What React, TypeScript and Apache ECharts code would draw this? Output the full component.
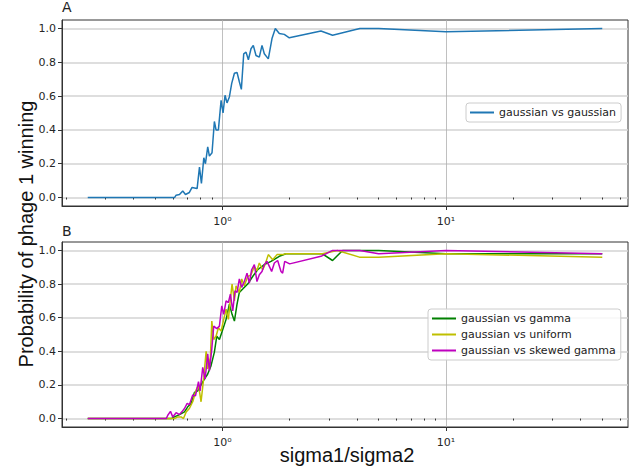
import React, { useEffect, useRef } from "react";
import * as echarts from "echarts";

// Panel A: gaussian vs gaussian
const xGauss = [0.25, 0.5, 0.611, 0.621, 0.643, 0.665, 0.684, 0.712, 0.732, 0.75, 0.771, 0.79, 0.806, 0.826, 0.84, 0.86, 0.875, 0.899, 0.921, 0.937, 0.96, 0.987, 1.007, 1.028, 1.049, 1.075, 1.101, 1.132, 1.163, 1.191, 1.216, 1.246, 1.276, 1.307, 1.343, 1.375, 1.414, 1.463, 1.504, 1.54, 1.605, 1.667, 1.725, 1.797, 1.892, 1.992, 2.76, 3.11, 4.12, 5.0, 10, 50];
const yGauss = [0, 0, 0, 0.014, 0.018, 0.039, 0.018, 0.03, 0.06, 0.057, 0.053, 0.18, 0.083, 0.235, 0.2, 0.3, 0.245, 0.265, 0.45, 0.4, 0.4, 0.575, 0.5, 0.605, 0.56, 0.595, 0.675, 0.735, 0.74, 0.685, 0.64, 0.85, 0.86, 0.815, 0.88, 0.9, 0.84, 0.83, 0.9, 0.85, 0.82, 0.94, 1.0, 0.97, 0.965, 0.945, 0.985, 0.96, 1.0, 1.0, 0.98, 1.0];

// Panel B: gaussian vs gamma
const xGamma = [0.25, 0.59, 0.611, 0.643, 0.677, 0.7, 0.725, 0.75, 0.776, 0.803, 0.831, 0.86, 0.89, 0.921, 0.944, 0.97, 1.004, 1.039, 1.075, 1.105, 1.132, 1.163, 1.191, 1.233, 1.298, 1.366, 1.438, 1.54, 1.65, 1.797, 1.924, 2.0, 2.8, 3.11, 3.45, 5.0, 10, 50];
const yGamma = [0, 0, 0.01, 0.024, 0.04, 0.07, 0.09, 0.155, 0.165, 0.2, 0.235, 0.265, 0.315, 0.395, 0.49, 0.47, 0.53, 0.59, 0.68, 0.62, 0.58, 0.68, 0.75, 0.77, 0.8, 0.845, 0.885, 0.915, 0.935, 0.965, 0.98, 0.98, 0.98, 0.94, 1.0, 1.0, 0.98, 0.98];

// Panel B: gaussian vs uniform
const xUniform = [0.25, 0.59, 0.611, 0.632, 0.654, 0.67, 0.689, 0.712, 0.737, 0.763, 0.782, 0.803, 0.826, 0.846, 0.86, 0.884, 0.897, 0.915, 0.937, 0.96, 0.987, 1.014, 1.039, 1.064, 1.086, 1.105, 1.132, 1.151, 1.191, 1.22, 1.254, 1.298, 1.343, 1.39, 1.428, 1.463, 1.514, 1.551, 1.605, 1.679, 1.755, 1.86, 1.924, 2.0, 2.8, 3.27, 4.1, 5.0, 10, 50];
const yUniform = [0, 0, 0, 0.01, 0.01, 0, 0.04, 0.06, 0.1, 0.17, 0.2, 0.1, 0.245, 0.4, 0.295, 0.365, 0.58, 0.47, 0.49, 0.54, 0.52, 0.59, 0.65, 0.59, 0.71, 0.8, 0.7, 0.79, 0.75, 0.83, 0.79, 0.845, 0.855, 0.905, 0.88, 0.925, 0.885, 0.915, 0.975, 0.945, 0.975, 0.975, 0.98, 0.98, 0.98, 1.0, 0.96, 0.96, 0.98, 0.96];

// Panel B: gaussian vs skewed gamma
const xSkewed = [0.25, 0.561, 0.57, 0.586, 0.6, 0.621, 0.643, 0.659, 0.677, 0.696, 0.712, 0.737, 0.758, 0.782, 0.795, 0.817, 0.837, 0.86, 0.875, 0.897, 0.915, 0.944, 0.97, 0.994, 1.014, 1.039, 1.064, 1.086, 1.113, 1.139, 1.163, 1.191, 1.22, 1.254, 1.289, 1.32, 1.352, 1.39, 1.428, 1.463, 1.504, 1.54, 1.583, 1.622, 1.661, 1.708, 1.767, 1.829, 1.86, 1.9, 2.0, 2.76, 3.11, 4.12, 5.0, 10, 50];
const ySkewed = [0, 0, 0.02, 0.043, 0.01, 0.035, 0.024, 0.04, 0.06, 0.09, 0.083, 0.14, 0.135, 0.22, 0.165, 0.305, 0.235, 0.385, 0.285, 0.415, 0.55, 0.535, 0.55, 0.67, 0.62, 0.7, 0.69, 0.74, 0.64, 0.76, 0.75, 0.83, 0.78, 0.815, 0.865, 0.805, 0.885, 0.915, 0.815, 0.855, 0.875, 0.915, 0.935, 0.905, 0.875, 0.925, 0.94, 0.875, 0.865, 0.935, 0.92, 0.965, 1.0, 1.0, 0.98, 1.0, 0.98];

const seriesNamesA = ["gaussian vs gaussian"];
const seriesNamesB = ["gaussian vs gamma", "gaussian vs uniform", "gaussian vs skewed gamma"];
const xMajorTicks = [1, 10];
const xMinorTicks = [0.2, 0.3, 0.4, 0.5, 0.6, 0.7, 0.8, 0.9, 2, 3, 4, 5, 6, 7, 8, 9, 20, 30, 40, 50, 60];
const yTicks = [0, 0.2, 0.4, 0.6, 0.8, 1.0];

const X_MIN = 0.19178;
const X_MAX = 65.17;
const SUP: Record<string, string> = { "0": "⁰", "1": "¹", "2": "²", "-": "⁻" };

const zip = (xs: number[], ys: number[]) => xs.map((x, i) => [x, ys[i]]);

const AX = "#333333";
const TXT = "#262626";

function majorX(gridIndex: number) {
  return {
    type: "log",
    logBase: 10,
    gridIndex,
    min: X_MIN,
    max: X_MAX,
    position: "bottom",
    axisLine: { show: true, onZero: false, lineStyle: { color: AX, width: 1 } },
    axisTick: { show: true, length: 4, customValues: xMajorTicks, lineStyle: { color: AX } },
    axisLabel: {
      customValues: xMajorTicks,
      fontSize: 11,
      color: TXT,
      margin: 10,
      fontFamily: "DejaVu Sans",
      formatter: (v: number) => {
        const e = String(Math.round(Math.log10(v)));
        return "10" + e.split("").map((c) => SUP[c] || c).join("");
      },
    },
    splitLine: { show: true, lineStyle: { color: "#b0b0b0", width: 0.8 } },
    minorTick: { show: false },
    minorSplitLine: { show: false },
  };
}

function minorX(gridIndex: number) {
  return {
    type: "log",
    logBase: 10,
    gridIndex,
    min: X_MIN,
    max: X_MAX,
    position: "bottom",
    axisLine: { show: false },
    axisTick: { show: true, length: 2, customValues: xMinorTicks, lineStyle: { color: AX } },
    axisLabel: { show: false },
    splitLine: { show: false },
  };
}

function yAx(gridIndex: number) {
  return {
    type: "value",
    gridIndex,
    min: -0.05,
    max: 1.05,
    axisLine: { show: true, onZero: false, lineStyle: { color: AX, width: 1 } },
    axisTick: { show: true, length: 4, customValues: yTicks, lineStyle: { color: AX } },
    axisLabel: {
      customValues: yTicks,
      fontSize: 11,
      color: TXT,
      margin: 6,
      fontFamily: "DejaVu Sans",
      formatter: (v: number) => v.toFixed(1),
    },
    splitLine: { show: true, lineStyle: { color: "#d3d3d3", width: 1.5 } },
  };
}

const lineSeries = (name: string, data: number[][], color: string, xi: number, yi: number) => ({
  type: "line",
  name,
  data,
  xAxisIndex: xi,
  yAxisIndex: yi,
  symbol: "none",
  showSymbol: false,
  color,
  lineStyle: { color, width: 1.5 },
  clip: true,
});

const legendBase = {
  orient: "vertical",
  icon: "rect",
  itemWidth: 24,
  itemHeight: 2,
  itemGap: 5,
  backgroundColor: "rgba(255,255,255,0.8)",
  borderColor: "#cccccc",
  borderWidth: 1,
  borderRadius: 3,
  textStyle: { fontSize: 11, color: "#222", fontFamily: "DejaVu Sans" },
};

export default function App() {
  const ref = useRef<HTMLDivElement>(null);
  useEffect(() => {
    if (!ref.current) return;
    const chart = echarts.init(ref.current, null, { renderer: "svg" });
    const gridBase = { left: 62, width: 566, show: true, borderColor: AX, borderWidth: 1, backgroundColor: "transparent" };
    const titleStyle = { fontSize: 14, fontWeight: "normal", color: "#222", fontFamily: "DejaVu Sans" };
    chart.setOption({
      animation: false,
      textStyle: { fontFamily: "DejaVu Sans" },
      grid: [
        { ...gridBase, top: 20, height: 186 },
        { ...gridBase, top: 242, height: 185 },
      ],
      title: [
        { text: "A", left: 62, top: 0, padding: 0, textStyle: titleStyle },
        { text: "B", left: 62, top: 224, padding: 0, textStyle: titleStyle },
      ],
      xAxis: [majorX(0), minorX(0), majorX(1), minorX(1)],
      yAxis: [yAx(0), yAx(1)],
      legend: [
        { ...legendBase, data: seriesNamesA, left: 466, top: 103, padding: [4, 5, 4, 4] },
        { ...legendBase, data: seriesNamesB, left: 428, top: 309, padding: [4, 5, 4, 4] },
      ],
      graphic: [
        {
          type: "text",
          x: 26,
          y: 234,
          rotation: Math.PI / 2,
          style: {
            text: "Probability of phage 1 winning",
            fontSize: 20,
            fontFamily: "Liberation Sans",
            fill: "#111",
            align: "center",
            verticalAlign: "middle",
          },
        },
        {
          type: "text",
          x: 347,
          y: 455,
          style: {
            text: "sigma1/sigma2",
            fontSize: 20,
            fontFamily: "Liberation Sans",
            fill: "#111",
            align: "center",
            verticalAlign: "middle",
          },
        },
      ],
      series: [
        lineSeries(seriesNamesA[0], zip(xGauss, yGauss), "#1f77b4", 0, 0),
        lineSeries(seriesNamesB[0], zip(xGamma, yGamma), "#008000", 2, 1),
        lineSeries(seriesNamesB[1], zip(xUniform, yUniform), "#bfbf00", 2, 1),
        lineSeries(seriesNamesB[2], zip(xSkewed, ySkewed), "#bf00bf", 2, 1),
      ],
    });
    return () => chart.dispose();
  }, []);
  return <div ref={ref} style={{ width: 641, height: 468, position: "absolute", left: 0, top: 0 }} />;
}
